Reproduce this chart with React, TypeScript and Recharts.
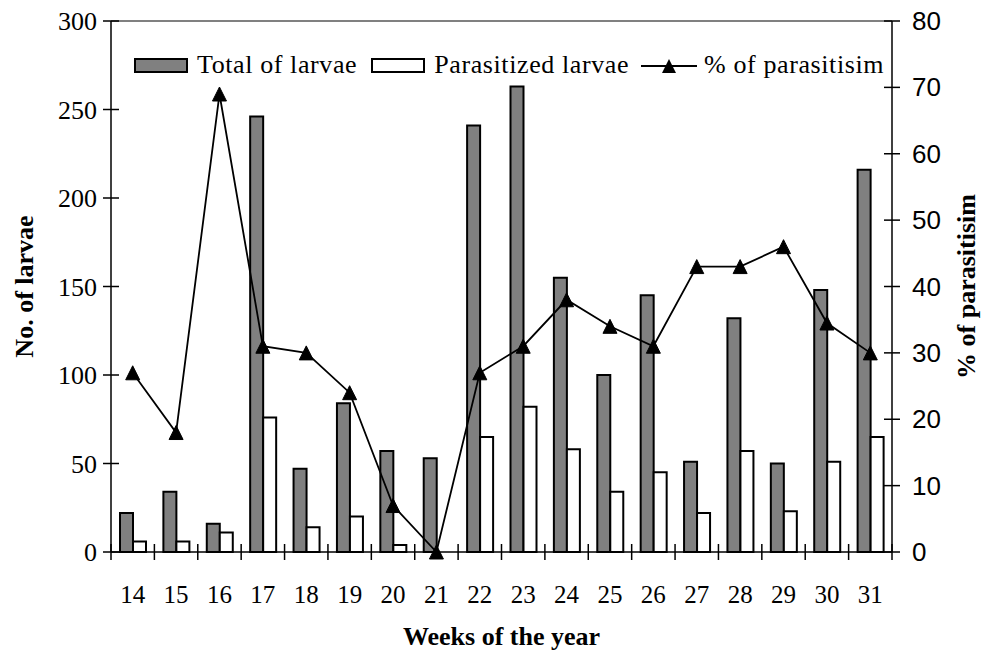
import { ComposedChart, Bar, Line, XAxis, YAxis, Legend, ReferenceLine } from 'recharts'

const weeks = ['14', '15', '16', '17', '18', '19', '20', '21', '22', '23', '24', '25', '26', '27', '28', '29', '30', '31']
const totalLarvae = [22, 34, 16, 246, 47, 84, 57, 53, 241, 263, 155, 100, 145, 51, 132, 50, 148, 216]
const parasitizedLarvae = [6, 6, 11, 76, 14, 20, 4, 0, 65, 82, 58, 34, 45, 22, 57, 23, 51, 65]
const parasitism = [27, 18, 69, 31, 30, 24, 7, 0, 27, 31, 38, 34, 31, 43, 43, 46, 34.5, 30]
const leftTicks = [0, 50, 100, 150, 200, 250, 300]
const rightTicks = [0, 10, 20, 30, 40, 50, 60, 70, 80]

const data = weeks.map((w, i) => ({
  week: w,
  total: totalLarvae[i],
  parasitized: parasitizedLarvae[i],
  pct: parasitism[i],
}))

const W = 985
const H = 656
const PLOT_LEFT = 111
const PLOT_RIGHT = 892
const PLOT_TOP = 21
const PLOT_BOTTOM = 552
const BAND = (PLOT_RIGHT - PLOT_LEFT) / weeks.length

const SERIF = '"Liberation Serif", "Times New Roman", serif'
const SANS = '"Liberation Sans", Arial, sans-serif'
const GRAY = '#808080'

function LeftTick(props: any) {
  const { y, payload } = props
  return (
    <g>
      <line x1={PLOT_LEFT - 8} x2={PLOT_LEFT + 8} y1={y} y2={y} stroke="#000" strokeWidth={1.5} />
      <text x={PLOT_LEFT - 14} y={y} dy="0.35em" textAnchor="end" fontFamily={SERIF} fontSize={26} fill="#000">
        {payload.value}
      </text>
    </g>
  )
}

function RightTick(props: any) {
  const { y, payload } = props
  return (
    <g>
      <line x1={PLOT_RIGHT - 8} x2={PLOT_RIGHT + 8} y1={y} y2={y} stroke="#000" strokeWidth={1.5} />
      <text x={PLOT_RIGHT + 20} y={y} dy="0.35em" textAnchor="start" fontFamily={SANS} fontSize={26} fill="#000">
        {payload.value}
      </text>
    </g>
  )
}

function WeekTick(props: any) {
  const { x, payload, index } = props
  const i = index ?? payload.index
  return (
    <g>
      <line x1={x - BAND / 2} x2={x - BAND / 2} y1={PLOT_BOTTOM - 8} y2={PLOT_BOTTOM + 8} stroke="#000" strokeWidth={1.5} />
      {i === weeks.length - 1 && (
        <line x1={x + BAND / 2} x2={x + BAND / 2} y1={PLOT_BOTTOM - 8} y2={PLOT_BOTTOM + 8} stroke="#000" strokeWidth={1.5} />
      )}
      <text x={x} y={PLOT_BOTTOM + 51} textAnchor="middle" fontFamily={SERIF} fontSize={25} fill="#000">
        {payload.value}
      </text>
    </g>
  )
}

function TriangleDot(props: any) {
  const { cx, cy } = props
  if (cx == null || cy == null) return null
  const s = 7
  return <path d={`M${cx},${cy - s} L${cx + s},${cy + s} L${cx - s},${cy + s} Z`} fill="#000" stroke="#000" strokeWidth={1} />
}

function ChartLegend() {
  const text = { fontFamily: SERIF, fontSize: 26, color: '#000', lineHeight: '30px', whiteSpace: 'nowrap' as const, letterSpacing: 0.6 }
  return (
    <div style={{ display: 'flex', alignItems: 'center' }}>
      <div style={{ width: 50, height: 11, background: GRAY, border: '2px solid #000' }} />
      <span style={{ ...text, marginLeft: 9 }}>Total of larvae</span>
      <div style={{ width: 50, height: 11, background: '#fff', border: '2px solid #000', marginLeft: 14 }} />
      <span style={{ ...text, marginLeft: 9 }}>Parasitized larvae</span>
      <svg width={56} height={16} style={{ marginLeft: 12 }}>
        <line x1={0} x2={56} y1={9} y2={9} stroke="#000" strokeWidth={1.8} />
        <path d="M28,2 L35,16 L21,16 Z" fill="#000" />
      </svg>
      <span style={{ ...text, marginLeft: 7 }}>% of parasitisim</span>
    </div>
  )
}

export default function App() {
  return (
    <div style={{ position: 'absolute', left: 0, top: 0, width: W, height: H, background: '#fff' }}>
      <ComposedChart
        width={W}
        height={H}
        data={data}
        margin={{ top: PLOT_TOP, right: 0, bottom: 0, left: 0 }}
        barGap={0}
      >
        <XAxis
          dataKey="week"
          height={H - PLOT_BOTTOM}
          interval={0}
          tickLine={false}
          axisLine={{ stroke: '#000', strokeWidth: 1.5 }}
          tick={<WeekTick />}
        />
        <YAxis
          yAxisId="left"
          width={PLOT_LEFT}
          domain={[0, 300]}
          ticks={leftTicks}
          interval={0}
          tickLine={false}
          axisLine={{ stroke: '#000', strokeWidth: 1.5 }}
          tick={<LeftTick />}
        />
        <YAxis
          yAxisId="right"
          orientation="right"
          width={W - PLOT_RIGHT}
          domain={[0, 80]}
          ticks={rightTicks}
          interval={0}
          tickLine={false}
          axisLine={{ stroke: '#000', strokeWidth: 1.5 }}
          tick={<RightTick />}
        />
        <ReferenceLine yAxisId="left" y={300} stroke={GRAY} strokeWidth={2} />
        <Legend
          layout="horizontal"
          verticalAlign="middle"
          align="center"
          content={<ChartLegend />}
          wrapperStyle={{ top: 50, left: 134, width: 780, height: 30 }}
        />
        <Bar yAxisId="left" dataKey="total" name="Total of larvae" fill={GRAY} stroke="#000" strokeWidth={2} barSize={13} isAnimationActive={false} />
        <Bar yAxisId="left" dataKey="parasitized" name="Parasitized larvae" fill="#fff" stroke="#000" strokeWidth={2} barSize={13} isAnimationActive={false} />
        <Line
          yAxisId="right"
          type="linear"
          dataKey="pct"
          name="% of parasitisim"
          stroke="#000"
          strokeWidth={1.8}
          dot={<TriangleDot />}
          activeDot={false}
          isAnimationActive={false}
        />
        <text x={24} y={(PLOT_TOP + PLOT_BOTTOM) / 2} transform={`rotate(-90 24 ${(PLOT_TOP + PLOT_BOTTOM) / 2})`} textAnchor="middle" dy="0.35em" fontFamily={SERIF} fontSize={26} fontWeight="bold" fill="#000">
          No. of larvae
        </text>
        <text x={966} y={(PLOT_TOP + PLOT_BOTTOM) / 2} transform={`rotate(-90 966 ${(PLOT_TOP + PLOT_BOTTOM) / 2})`} textAnchor="middle" dy="0.35em" fontFamily={SERIF} fontSize={26} fontWeight="bold" fill="#000">
          % of parasitisim
        </text>
        <text x={(PLOT_LEFT + PLOT_RIGHT) / 2} y={645} textAnchor="middle" fontFamily={SERIF} fontSize={26} fontWeight="bold" fill="#000">
          Weeks of the year
        </text>
      </ComposedChart>
    </div>
  )
}
